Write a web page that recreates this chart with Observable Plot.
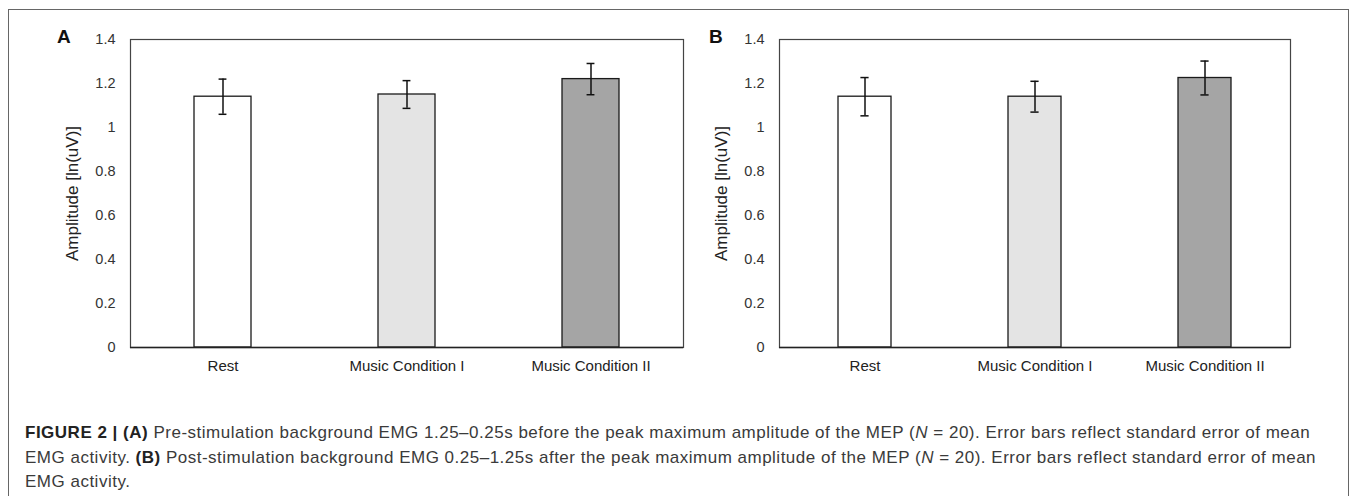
<!DOCTYPE html>
<html>
<head>
<meta charset="utf-8">
<script src="https://cdn.jsdelivr.net/npm/d3@7"></script>
<script src="https://cdn.jsdelivr.net/npm/@observablehq/plot@0.6"></script>
<style>
  html, body { margin: 0; padding: 0; background: #fff; }
  #wrap { position: relative; width: 1358px; height: 496px; overflow: hidden; font-family: "Liberation Sans", Arial, sans-serif; }
  #box { position: absolute; left: 8px; top: 9px; width: 1341px; height: 520px; border: 1px solid #666; box-sizing: border-box; }
  .panel { position: absolute; top: 0; }
  .plabel { position: absolute; font-weight: bold; font-size: 19px; color: #111; }
  #caption { position: absolute; left: 25px; top: 421px; font-size: 17px; letter-spacing: 0.5px; line-height: 24.5px; color: #3a3a3a; white-space: nowrap; }
  #caption b { color: #222; }
</style>
</head>
<body>
<div id="wrap">
  <div id="box"></div>
  <div id="panelA" class="panel" style="left:0px"></div>
  <div id="panelB" class="panel" style="left:700px"></div>
  <div class="plabel" style="left:57px; top:26px">A</div>
  <div class="plabel" style="left:709px; top:26px">B</div>
  <div id="caption">
    <b>FIGURE 2 | (A)</b> Pre-stimulation background EMG 1.25–0.25s before the peak maximum amplitude of the MEP (<i>N</i> = 20). Error bars reflect standard error of mean<br>
    EMG activity. <b>(B)</b> Post-stimulation background EMG 0.25–1.25s after the peak maximum amplitude of the MEP (<i>N</i> = 20). Error bars reflect standard error of mean<br>
    EMG activity.
  </div>
</div>
<script>
// ---- data ----
const conditions = ["Rest", "Music Condition I", "Music Condition II"];
const meanA = [1.14, 1.15, 1.22];
const seA   = [0.08, 0.063, 0.071];
const meanB = [1.14, 1.14, 1.225];
const seB   = [0.087, 0.07, 0.077];
const yTicks = [0, 0.2, 0.4, 0.6, 0.8, 1, 1.2, 1.4];
const yTitle = "Amplitude [ln(uV)]";
const barColors = ["#ffffff", "#e4e4e4", "#a5a5a5"];

function panel(means, ses, opts) {
  const rows = conditions.map((c, i) => ({cond: c, mean: means[i], se: ses[i], color: barColors[i]}));
  const frameW = opts.width - opts.marginLeft - opts.marginRight;
  const step = frameW / conditions.length;
  const pad = 0.69;
  const bw = step * (1 - pad);
  const capW = 8;
  const capInset = (bw - capW) / 2;
  return Plot.plot({
    width: opts.width,
    height: 390,
    marginTop: 39,
    marginBottom: 43,
    marginLeft: opts.marginLeft,
    marginRight: opts.marginRight,
    style: {fontFamily: "Liberation Sans, Arial, sans-serif", background: "transparent", overflow: "visible"},
    x: {domain: conditions, paddingInner: pad, paddingOuter: pad / 2, label: null},
    y: {domain: [0, 1.4], label: null},
    marks: [
      Plot.barY(rows, {x: "cond", y: "mean", fill: "color", stroke: "#1a1a1a", strokeWidth: 1.3}),
      Plot.ruleX(rows, {x: "cond", y1: d => d.mean - d.se, y2: d => d.mean + d.se, stroke: "#111", strokeWidth: 1.5}),
      Plot.tickY(rows, {x: "cond", y: d => d.mean + d.se, insetLeft: capInset, insetRight: capInset, stroke: "#111", strokeWidth: 1.5}),
      Plot.tickY(rows, {x: "cond", y: d => d.mean - d.se, insetLeft: capInset, insetRight: capInset, stroke: "#111", strokeWidth: 1.5}),
      Plot.frame({stroke: "#444", strokeWidth: 1.2}),
      Plot.ruleY([0], {stroke: "#222", strokeWidth: 1.6}),
      Plot.axisY({ticks: yTicks, tickFormat: d => String(d), tickSize: 0, tickPadding: 15, fontSize: 14.5, fill: "#333", label: null}),
      Plot.axisX({tickSize: 0, tickPadding: 12.5, fontSize: 15, fill: "#222", label: null}),
      Plot.text([yTitle], {frameAnchor: "left", rotate: -90, textAnchor: "middle", dx: -58, fontSize: 17, fill: "#222"})
    ]
  });
}

document.getElementById("panelA").appendChild(panel(meanA, seA, {width: 700, marginLeft: 130, marginRight: 17}));
document.getElementById("panelB").appendChild(panel(meanB, seB, {width: 620, marginLeft: 79, marginRight: 30}));
</script>
</body>
</html>
